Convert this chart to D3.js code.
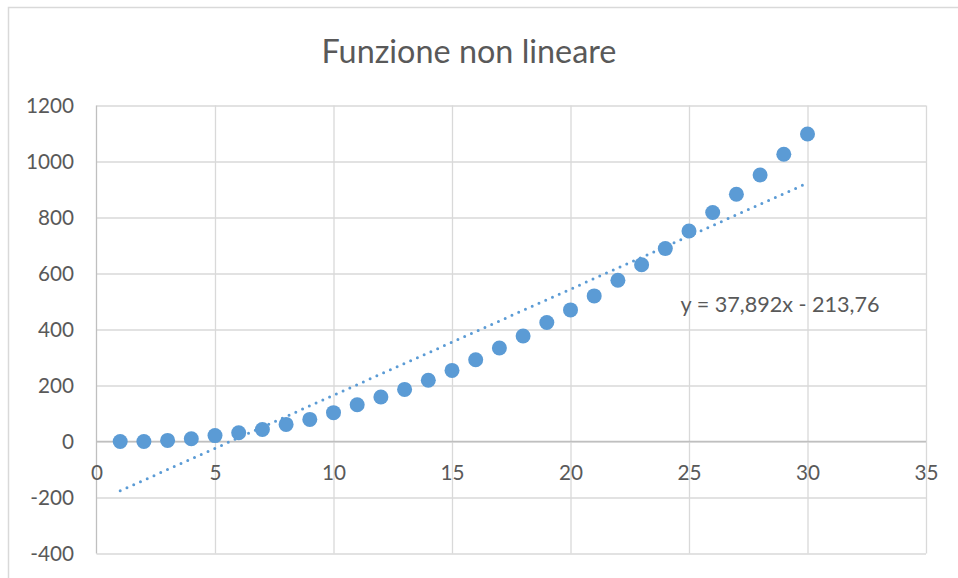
<!DOCTYPE html>
<html>
<head>
<meta charset="utf-8">
<script src="https://cdn.jsdelivr.net/npm/d3@7"></script>
<style>
  html, body { margin: 0; padding: 0; background: #ffffff; }
  svg { display: block; font-family: Lato, "Open Sans", sans-serif; }
</style>
</head>
<body>
<svg id="chart" width="958" height="578"></svg>
<script>
// Series: x = 1..30 and measured y values
const xValues = [1, 2, 3, 4, 5, 6, 7, 8, 9, 10, 11, 12, 13, 14, 15,
                 16, 17, 18, 19, 20, 21, 22, 23, 24, 25, 26, 27, 28, 29, 30];
const yValues = [0, 0, 4, 10, 21, 31, 43, 61, 79, 103, 131, 159, 186, 219, 254,
                 292, 334, 377, 425, 470, 520, 576, 631, 689, 752, 818, 883, 952, 1026, 1098];

// Linear trend line coefficients (y = slope*x + intercept)
const trendSlope = 37.892;
const trendIntercept = -213.76;
const trendLabel = "y = 37,892x - 213,76";

// Axis ticks
const xTicks = [0, 5, 10, 15, 20, 25, 30, 35];
const yTicks = [-400, -200, 0, 200, 400, 600, 800, 1000, 1200];

const title = "Funzione non lineare";

const svg = d3.select("#chart");
const W = 958, H = 578;
const plot = { left: 96.5, right: 926, top: 105.5, bottom: 553.5 };

const textColor = "#595959";
const gridColor = "#d9d9d9";
const axisColor = "#bfbfbf";
const seriesColor = "#5b9bd5";

// Plain hyphen-minus for negative tick values
const plainNumber = d => String(d);

// Outer chart frame
svg.append("rect")
  .attr("x", 8.5).attr("y", 7.5)
  .attr("width", W).attr("height", H)
  .attr("fill", "#ffffff")
  .attr("stroke", gridColor).attr("stroke-width", 1.5);

const x = d3.scaleLinear().domain([0, 35]).range([plot.left, plot.right]);
const y = d3.scaleLinear().domain([-400, 1200]).range([plot.bottom, plot.top]);

// Vertical gridlines
svg.append("g")
  .attr("transform", `translate(0,${plot.bottom})`)
  .call(d3.axisBottom(x).tickValues(xTicks.filter(d => d > 0))
    .tickSize(-(plot.bottom - plot.top)).tickFormat(""))
  .call(g => g.select(".domain").remove())
  .call(g => g.selectAll(".tick line").attr("stroke", gridColor).attr("stroke-width", 1.3));

// Horizontal gridlines
svg.append("g")
  .attr("transform", `translate(${plot.left},0)`)
  .call(d3.axisLeft(y).tickValues(yTicks)
    .tickSize(-(plot.right - plot.left)).tickFormat(""))
  .call(g => g.select(".domain").remove())
  .call(g => g.selectAll(".tick line").attr("stroke", gridColor).attr("stroke-width", 1.3));

// Vertical axis line
svg.append("line")
  .attr("x1", x(0)).attr("x2", x(0))
  .attr("y1", plot.top).attr("y2", plot.bottom)
  .attr("stroke", axisColor).attr("stroke-width", 1.3);

// Horizontal axis line at y = 0
svg.append("line")
  .attr("x1", plot.left).attr("x2", plot.right)
  .attr("y1", y(0)).attr("y2", y(0))
  .attr("stroke", axisColor).attr("stroke-width", 1.3);

const tickFont = 20.7;

// Y tick labels
svg.append("g")
  .attr("transform", `translate(${plot.left},0)`)
  .call(d3.axisLeft(y).tickValues(yTicks).tickSize(0).tickPadding(22.5).tickFormat(plainNumber))
  .call(g => g.select(".domain").remove())
  .call(g => g.selectAll("text")
    .attr("fill", textColor)
    .style("font-family", "Lato, 'Open Sans', sans-serif")
    .style("font-size", tickFont + "px"));

// X tick labels, placed under the zero line
svg.append("g")
  .attr("transform", `translate(0,${y(0)})`)
  .call(d3.axisBottom(x).tickValues(xTicks).tickSize(0).tickPadding(23.5).tickFormat(plainNumber))
  .call(g => g.select(".domain").remove())
  .call(g => g.selectAll("text")
    .attr("fill", textColor)
    .style("font-family", "Lato, 'Open Sans', sans-serif")
    .style("font-size", tickFont + "px"));

// Trend line across the data range
const trendData = [d3.min(xValues), d3.max(xValues)].map(v => ({ x: v, y: trendSlope * v + trendIntercept }));
svg.append("path")
  .datum(trendData)
  .attr("d", d3.line().x(d => x(d.x)).y(d => y(d.y)))
  .attr("fill", "none")
  .attr("stroke", seriesColor)
  .attr("stroke-width", 3)
  .attr("stroke-linecap", "round")
  .attr("stroke-dasharray", "0 7.4");

// Data points
const points = xValues.map((v, i) => ({ x: v, y: yValues[i] }));
svg.append("g")
  .selectAll("circle")
  .data(points)
  .join("circle")
  .attr("cx", d => x(d.x))
  .attr("cy", d => y(d.y))
  .attr("r", 7.5)
  .attr("fill", seriesColor);

// Trend equation label
const eq = svg.append("text")
  .attr("x", 680.5).attr("y", 311.5)
  .attr("fill", textColor)
  .style("font-size", tickFont + "px")
  .text(trendLabel);
fitWidth(eq, 199, tickFont);

// Title
const t = svg.append("text")
  .attr("x", 469).attr("y", 62.5)
  .attr("text-anchor", "middle")
  .attr("fill", textColor)
  .style("font-size", "33px")
  .text(title);
fitWidth(t, 295, 33);

// Scale a text's font size so its rendered width matches the given width
function fitWidth(sel, target, size) {
  const w = sel.node().getComputedTextLength();
  if (w > 0) sel.style("font-size", (size * target / w).toFixed(2) + "px");
}
</script>
</body>
</html>
